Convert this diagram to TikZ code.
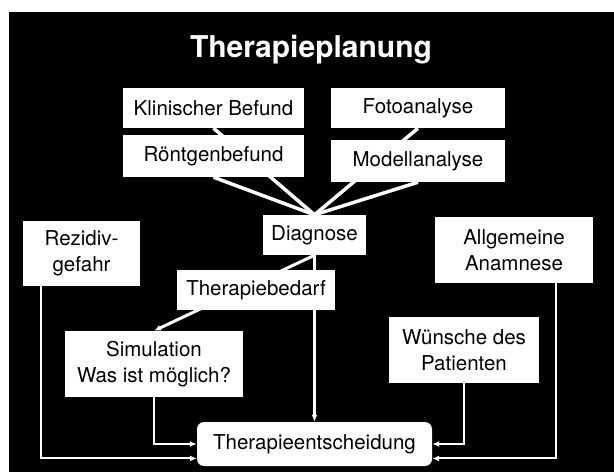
\documentclass[tikz,border=0pt]{standalone}
\usepackage{fontspec}
\setmainfont{TeX Gyre Heros}
\usetikzlibrary{arrows.meta, backgrounds}

\tikzset{
  box/.style={fill=white, text=black, align=center, inner sep=2pt,
    font=\fontsize{20.5}{26}\selectfont},
  fan/.style={draw=white, line width=3.5pt},
  flow/.style={draw=white, line width=2pt, -{Latex[length=7pt,width=6pt]}},
}

\begin{document}
\begin{tikzpicture}[x=1pt, y=-1pt]
    \useasboundingbox (0,0) rectangle (614,472);

    \node[text=white, font=\fontsize{30}{36}\selectfont\bfseries] (title) at (311,50) {Therapieplanung};

    % Befunde oben
    \node[box, minimum width=181pt, minimum height=40pt] (klin) at (213.5,108) {Klinischer Befund};
    \node[box, minimum width=181pt, minimum height=42pt] (roent) at (213.5,156) {Röntgenbefund};
    \node[box, minimum width=174pt, minimum height=40pt] (foto) at (418,108) {Fotoanalyse};
    \node[box, minimum width=174pt, minimum height=42pt] (modell) at (418,161) {Modellanalyse};

    \node[box, minimum width=103pt, minimum height=40pt] (diag) at (314.5,235) {Diagnose};
    \node[box, minimum width=158pt, minimum height=40pt] (bedarf) at (256,290) {Therapiebedarf};

    \node[box, minimum width=117pt, minimum height=65pt] (rezidiv) at (81.5,253.5) {Rezidiv-\\gefahr};
    \node[box, minimum width=158pt, minimum height=66pt] (anamnese) at (514,250) {Allgemeine\\Anamnese};
    \node[box, minimum width=178pt, minimum height=66pt] (sim) at (154,364) {Simulation\\Was ist möglich?};
    \node[box, minimum width=150pt, minimum height=66pt] (wunsch) at (464,350) {Wünsche des\\Patienten};

    \node[box, rounded corners=7pt, minimum width=235pt, minimum height=44pt] (entsch) at (314.5,444) {Therapieentscheidung};

    \begin{scope}[on background layer]
        \fill[black] (9,12) rectangle (614,472);

        \draw[fan] (klin.south) -- (diag.north);
        \draw[fan] (foto.south) -- (diag.north);
        \draw[fan] (roent.south) -- (diag.north);
        \draw[fan] (modell.south) -- (diag.north);

        \draw[flow, line width=3pt] (diag.south) -- (sim.north);
        \draw[flow, line width=2.5pt] (diag.south) -- (entsch.north);
        \draw[flow] (sim.south) |- (entsch.west);
        \draw[flow] ([xshift=18pt]rezidiv.south west) |- (entsch.187);
        \draw[flow] (wunsch.south) |- (entsch.east);
        \draw[flow] ([xshift=-37pt]anamnese.south east) |- (entsch.353);
    \end{scope}

  \end{tikzpicture}
\end{document}
